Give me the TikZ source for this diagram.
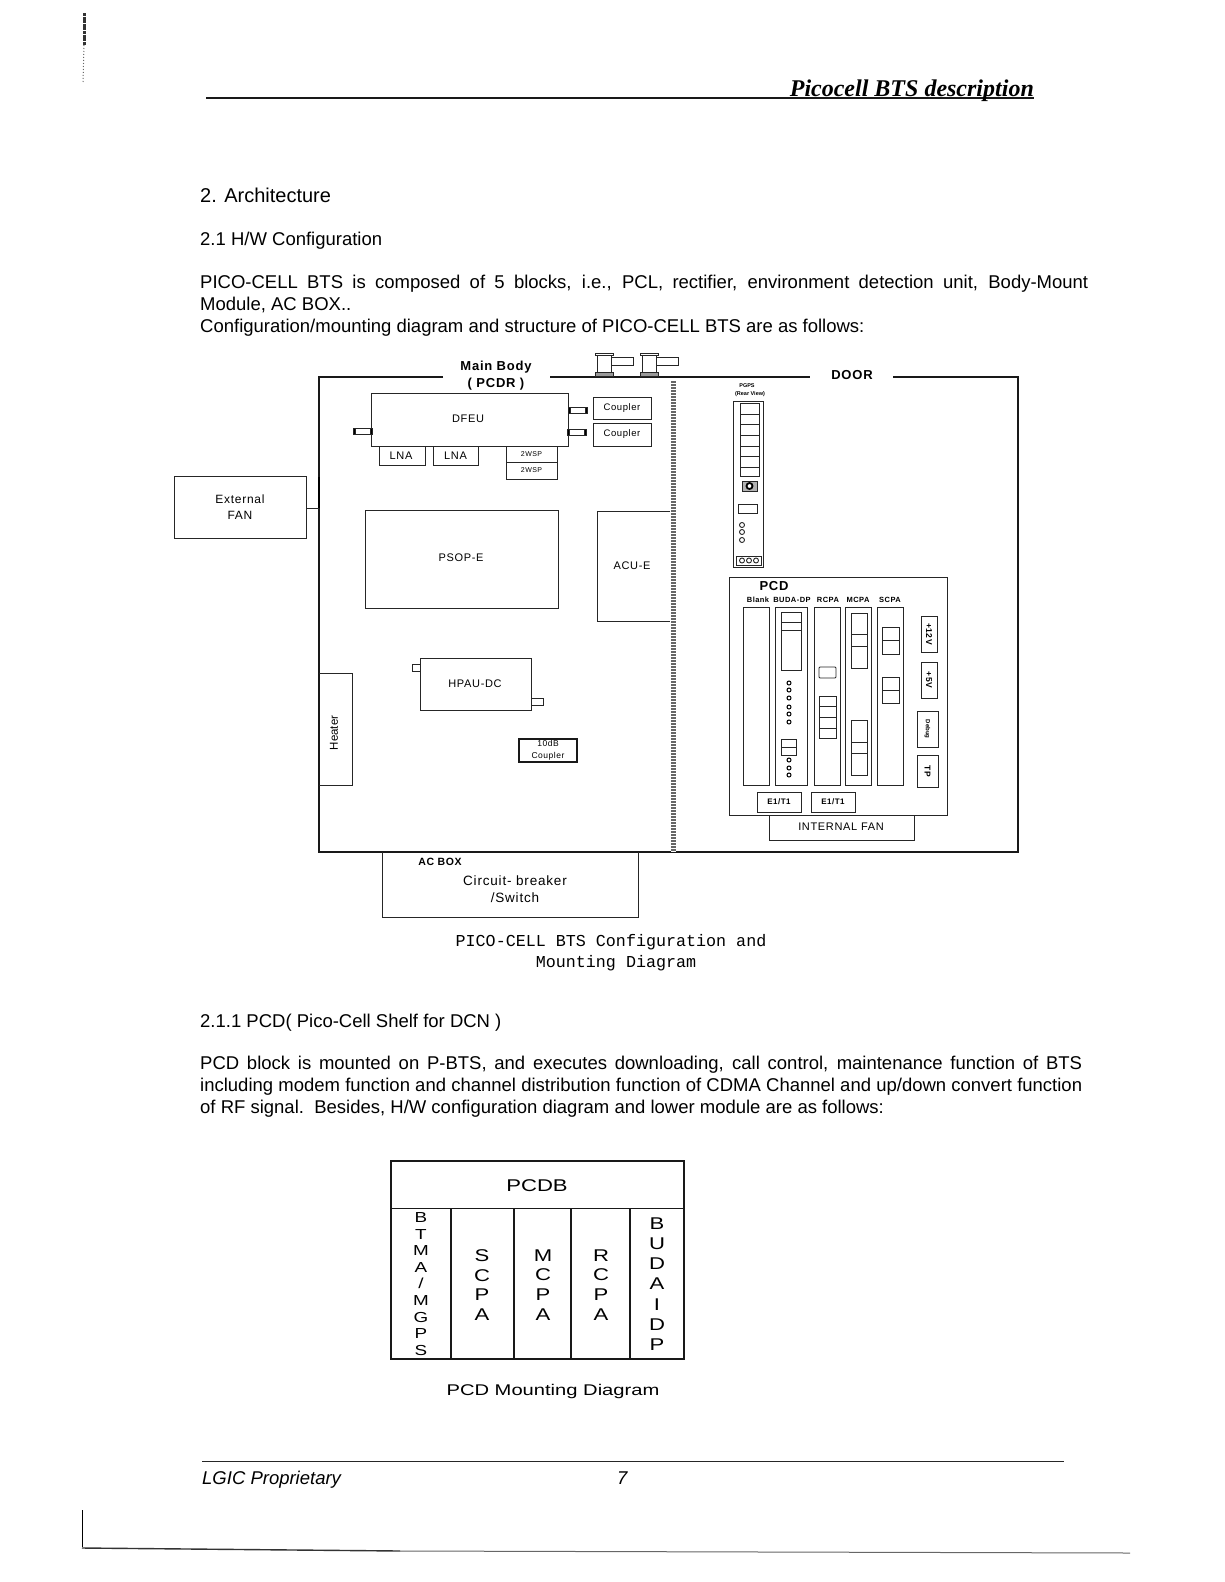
\documentclass[tikz,border=0pt]{standalone}
\usepackage{fontspec}
\setmainfont{Liberation Sans}
\newfontfamily\headfont{Liberation Serif}
\newfontfamily\capfont{Liberation Mono}
\newfontfamily\widefont[FakeStretch=1.3]{Liberation Sans}
\newfontfamily\labelfont[LetterSpace=6]{Liberation Sans}
\usetikzlibrary{arrows}

\tikzset{
    thin line/.style={line width=0.9pt,black!85},
    wall/.style={line width=1.4pt,black!90},
    body text/.style={anchor=base west,inner sep=0pt,font=\fontsize{18.5}{22}\selectfont},
    para/.style={body text,anchor=north west,text width=#1,align=justify},
    lbl/.style={inner sep=0pt,font=\labelfont\fontsize{11}{13}\selectfont},
    tiny lbl/.style={inner sep=0pt,font=\labelfont\bfseries\fontsize{7.5}{9}\selectfont},
    letters/.style={inner sep=0pt,align=center,font=\widefont\fontsize{#1}{19.8}\selectfont},
    cap lbl/.style={inner sep=0pt,font=\capfont\fontsize{16.7}{21}\selectfont},
}

\begin{document}
\begin{tikzpicture}[x=1pt,y=-1pt]
    \useasboundingbox (0,0) rectangle (1224,1582);

    % page header
    \draw[wall,line width=1.2pt] (206,98) -- (1034,98);
    \node[anchor=base east,inner sep=0pt,font=\headfont\bfseries\itshape\fontsize{24}{26}\selectfont] (header) at (1034,96) {Picocell BTS description};

    \node[body text,font=\fontsize{20}{24}\selectfont] (sec2) at (200,202) {2. Architecture};
    \node[body text] (sec21) at (200,245) {2.1 H/W Configuration};
    \node[para=888pt] (intro) at (200,275) {PICO-CELL BTS is composed of 5 blocks, i.e., PCL, rectifier, environment detection unit, Body-Mount\linebreak Module, AC BOX..\\Configuration/mounting diagram and structure of PICO-CELL BTS are as follows:};

    % outer walls
    \draw[wall] (443,377) -- (319,377) -- (319,852) -- (1018,852) -- (1018,377) -- (893,377);
    \draw[wall] (550,377) -- (810,377);
    \draw[line width=5pt,black!60] (673,380) -- (673,852);
    \draw[line width=5pt,white,dash pattern=on 0.8pt off 2.2pt] (673,380) -- (673,852);
    \node[lbl,font=\labelfont\bfseries\fontsize{13}{15}\selectfont] (mainbody) at (496,367) {Main Body};
    \node[lbl,font=\labelfont\bfseries\fontsize{13}{15}\selectfont] (pcdr) at (496,384) {( PCDR )};
    \node[lbl,font=\labelfont\bfseries\fontsize{13}{15}\selectfont] (door) at (852,375) {DOOR};

    % connectors on the roof
    \foreach \x in {604,649}{
        \draw[thin line] (\x-7,355) rectangle (\x+7,372);
        \draw[thin line,fill=white] (\x-9,353) rectangle (\x+9,355.5);
        \draw[thin line,fill=black!40] (\x-9,372) rectangle (\x+9,376);
        \draw[thin line] (\x+7,357) rectangle (\x+29,365);
    }

    % main body, top
    \draw[thin line] (371,393) rectangle (568,446);
    \node[lbl] (dfeu) at (468,419) {DFEU};
    \draw[thin line] (593,397) rectangle (651,419);
    \node[lbl,font=\labelfont\fontsize{9.5}{11}\selectfont] (coupler1) at (622,408) {Coupler};
    \draw[thin line] (593,423) rectangle (651,446);
    \node[lbl,font=\labelfont\fontsize{9.5}{11}\selectfont] (coupler2) at (622,434) {Coupler};
    \draw[thin line] (379,446) rectangle (425,465);
    \node[lbl] (lna1) at (401,455.5) {LNA};
    \draw[thin line] (433,446) rectangle (478,465);
    \node[lbl] (lna2) at (455.5,455.5) {LNA};
    \draw[thin line] (506,446) rectangle (557,462);
    \node[lbl,font=\labelfont\fontsize{7}{9}\selectfont] (wsp1) at (531.5,454) {2WSP};
    \draw[thin line] (506,462) rectangle (557,479);
    \node[lbl,font=\labelfont\fontsize{7}{9}\selectfont] (wsp2) at (531.5,470.5) {2WSP};

    % coax stubs
    \foreach \a/\y in {353/428,568/407,567/429}{
        \draw[thin line] (\a,\y) rectangle (\a+19,\y+6.5);
        \draw[thin line,fill=black] (\a,\y) rectangle (\a+2,\y+6.5);
        \draw[thin line,fill=black] (\a+17,\y) rectangle (\a+19,\y+6.5);
    }

    % external fan
    \node[draw,thin line,text=black,minimum width=132pt,minimum height=62pt,inner sep=0pt,align=center,font=\labelfont\fontsize{12}{16.5}\selectfont] (extfan) at (240,507) {External\\FAN};
    \coordinate (fanwall) at (319,508);
    \draw[thin line] (extfan.east |- fanwall) -- (fanwall);
    \draw[line width=2.4pt] (319,477) -- (fanwall);

    % power and control
    \draw[thin line] (365,510) rectangle (558,608);
    \node[lbl] (psop) at (461,558) {PSOP-E};
    \draw[thin line] (670,511) -- (597,511) -- (597,621) -- (670,621);
    \node[lbl] (acu) at (632,566) {ACU-E};
    \draw[thin line] (420,658) rectangle (531,710);
    \node[lbl] (hpau) at (475,684) {HPAU-DC};
    \draw[thin line] (412,664) rectangle (420,671);
    \draw[thin line] (531,698) rectangle (543,705);
    \draw[wall,line width=1.2pt] (519,739) rectangle (577,762);
    \node[lbl,align=center,font=\labelfont\fontsize{8.5}{11.5}\selectfont] (coupler10) at (548,750.5) {10dB\\Coupler};
    \draw[thin line] (319,673) -- (352,673) -- (352,785) -- (319,785);
    \node[lbl,rotate=90,font=\fontsize{11.5}{13}\selectfont] (heater) at (334,733) {Heater};

    % ac box
    \draw[thin line] (382,852) -- (382,917) -- (638,917) -- (638,852);
    \node[lbl,font=\labelfont\bfseries\fontsize{10.5}{12}\selectfont] (acbox) at (440,862) {AC BOX};
    \node[lbl,align=center,font=\labelfont\fontsize{13.5}{17}\selectfont] (breaker) at (515,889.5) {Circuit- breaker\\/Switch};

    % pgps, rear view
    \node[tiny lbl,font=\bfseries\fontsize{5.5}{7}\selectfont] (pgps) at (747,386) {PGPS};
    \node[tiny lbl,font=\bfseries\fontsize{5.5}{7}\selectfont] (rearview) at (750,394) {(Rear View)};
    \draw[thin line] (733,401) rectangle (763,567);
    \draw[thin line] (740,403) rectangle (759,476);
    \foreach \y in {414,424,435,446,456,467}{
        \draw[thin line] (740,\y) -- (759,\y);
    }
    \draw[thin line,fill=black!30] (742,481) rectangle (757,491);
    \draw[line width=1.8pt,fill=white] (749.5,486) circle (3pt);
    \draw[thin line] (738,504) rectangle (757,513);
    \foreach \y in {525,532,540}{
        \draw[thin line] (742,\y) circle (2.5pt);
    }
    \draw[thin line] (736,556) rectangle (761,565);
    \foreach \x in {742,749,756}{
        \draw[thin line] (\x,560.5) circle (2.5pt);
    }

    % pcd shelf
    \draw[thin line] (729,577) rectangle (947,815);
    \node[lbl,font=\labelfont\bfseries\fontsize{13}{15}\selectfont] (pcd) at (774,586) {PCD};
    \node[tiny lbl] (blank) at (758,600) {Blank};
    \node[tiny lbl] (budadp) at (792,600) {BUDA-DP};
    \node[tiny lbl] (rcpa) at (828,600) {RCPA};
    \node[tiny lbl] (mcpa) at (858,600) {MCPA};
    \node[tiny lbl] (scpa) at (890,600) {SCPA};
    \foreach \a/\b in {743/769,775/807,814/840,845/871,877/903}{
        \draw[thin line] (\a,607) rectangle (\b,785);
    }
    % buda-dp
    \draw[thin line] (781,612) rectangle (801,670);
    \draw[thin line] (781,622) -- (801,622) (781,630) -- (801,630);
    \draw[thin line] (781,739) rectangle (796,755);
    \draw[thin line] (781,747) -- (796,747);
    \foreach \y in {683,690,698,707,714,722,760,768,775}{
        \draw[line width=1pt] (789,\y) circle (2pt);
    }
    % rcpa
    \draw[thin line,rounded corners=1pt] (819,667) rectangle (836,678);
    \draw[thin line] (819,696) rectangle (836,738);
    \foreach \y in {706,717,728}{
        \draw[thin line] (819,\y) -- (836,\y);
    }
    % mcpa
    \draw[thin line] (851,613) rectangle (867,668);
    \draw[thin line] (851,634) -- (867,634) (851,646) -- (867,646);
    \draw[thin line] (851,720) rectangle (867,775);
    \draw[thin line] (851,742) -- (867,742) (851,753) -- (867,753);
    % scpa
    \draw[thin line] (882,627) rectangle (899,654);
    \draw[thin line] (882,640) -- (899,640);
    \draw[thin line] (882,677) rectangle (899,703);
    \draw[thin line] (882,690) -- (899,690);
    % test points
    \draw[thin line] (921,616) rectangle (937,652);
    \node[tiny lbl,rotate=-90,font=\labelfont\bfseries\fontsize{8.5}{10}\selectfont] (v12) at (929,634) {+12V};
    \draw[thin line] (921,662) rectangle (937,698);
    \node[tiny lbl,rotate=-90,font=\labelfont\bfseries\fontsize{8.5}{10}\selectfont] (v5) at (929,680) {+5V};
    \draw[thin line] (917,711) rectangle (938,747);
    \node[tiny lbl,rotate=-90,font=\bfseries\fontsize{6}{7}\selectfont] (debug) at (927.5,729) {Debug};
    \draw[thin line] (917,755) rectangle (938,787);
    \node[tiny lbl,rotate=-90,font=\labelfont\bfseries\fontsize{8.5}{10}\selectfont] (tp) at (927.5,771) {TP};
    \draw[thin line] (757,792) rectangle (801,812);
    \node[tiny lbl,font=\labelfont\bfseries\fontsize{8}{10}\selectfont] (e1t1a) at (779,802) {E1/T1};
    \draw[thin line] (811,792) rectangle (855,812);
    \node[tiny lbl,font=\labelfont\bfseries\fontsize{8}{10}\selectfont] (e1t1b) at (833,802) {E1/T1};
    \draw[thin line] (769,815) -- (769,840) -- (914,840) -- (914,815);
    \node[lbl] (intfan) at (841,827) {INTERNAL FAN};

    \node[cap lbl] (cap1a) at (611,942) {PICO-CELL BTS Configuration and};
    \node[cap lbl] (cap1b) at (616,963) {Mounting Diagram};

    \node[body text] (sec211) at (200,1027) {2.1.1 PCD( Pico-Cell Shelf for DCN )};
    \node[para=882pt] (pcdtext) at (200,1056) {PCD block is mounted on P-BTS, and executes downloading, call control, maintenance function of BTS\linebreak including modem function and channel distribution function of CDMA Channel and up/down convert function\linebreak of RF signal.\ \ Besides, H/W configuration diagram and lower module are as follows:};

    % second figure
    \draw[wall] (391,1161) rectangle (684,1359);
    \draw[wall] (391,1208.5) -- (684,1208.5);
    \foreach \x in {451,514,571,630}{
        \draw[wall] (\x,1208.5) -- (\x,1359);
    }
    \node[letters=17] (pcdb) at (537,1186) {PCDB};
    \node[letters=14.5,font=\widefont\fontsize{14.5}{16.6}\selectfont] (btma) at (421,1284) {B\\T\\M\\A\\/\\M\\G\\P\\S};
    \node[letters=17] (scpa2) at (482,1285) {S\\C\\P\\A};
    \node[letters=17] (mcpa2) at (543,1285) {M\\C\\P\\A};
    \node[letters=17] (rcpa2) at (601,1285) {R\\C\\P\\A};
    \node[letters=17,font=\widefont\fontsize{17}{20.2}\selectfont] (buda) at (657,1284) {B\\U\\D\\A\\I\\D\\P};
    \node[letters=15.5] (cap2) at (553,1391) {PCD Mounting Diagram};

    % page footer
    \draw[thin line] (202,1461) -- (1064,1461);
    \node[body text,font=\itshape\fontsize{18.5}{22}\selectfont] (footer) at (202,1484) {LGIC Proprietary};
    \node[body text,font=\itshape\fontsize{18.5}{22}\selectfont] (pageno) at (617,1484) {7};

    % scan marks
    \draw[line width=3pt,black!80,dash pattern=on 3pt off 0.6pt] (84,13) -- (84,45);
    \draw[line width=1pt,black!60,dotted] (84,45) -- (83,82);
    \draw[line width=1pt] (82,1510) -- (82,1547);
    \draw[line width=1.4pt,black!80] (82,1548) -- (400,1551);
    \draw[line width=1pt,black!60] (400,1551) -- (1130,1553);
\end{tikzpicture}
\end{document}
